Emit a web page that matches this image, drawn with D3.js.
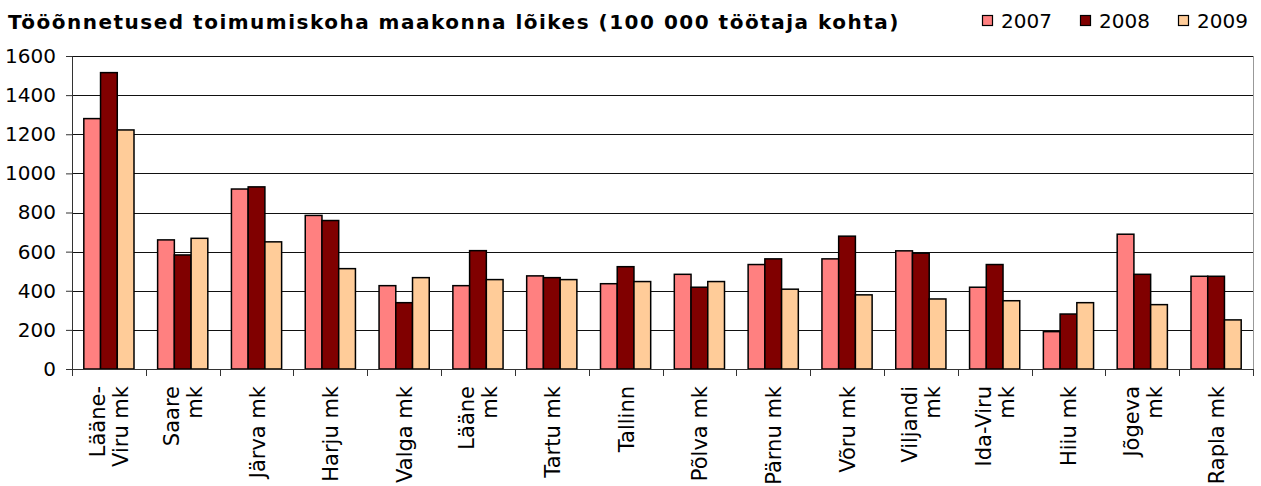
<!DOCTYPE html>
<html>
<head>
<meta charset="utf-8">
<script src="https://cdn.jsdelivr.net/npm/d3@7"></script>
<style>
  body { margin: 0; background: #fff; }
  text { font-family: "DejaVu Sans", Verdana, sans-serif; }
</style>
</head>
<body>
<div id="wrapper"></div>
<script>
// maakonnad ja aastad
const categories = [
    ["Lääne-", "Viru mk"], ["Saare", "mk"], ["Järva mk"], ["Harju mk"], ["Valga mk"],
    ["Lääne", "mk"], ["Tartu mk"], ["Tallinn"], ["Põlva mk"], ["Pärnu mk"],
    ["Võru mk"], ["Viljandi", "mk"], ["Ida-Viru", "mk"], ["Hiiu mk"], ["Jõgeva", "mk"], ["Rapla mk"]
];
const years = ["2007", "2008", "2009"];
const values2007 = [1280, 660, 920, 785, 426, 426, 476, 436, 484, 534, 563, 604, 418, 191, 689, 474];
const values2008 = [1515, 583, 931, 759, 339, 605, 467, 523, 418, 563, 679, 592, 534, 281, 484, 474];
const values2009 = [1222, 668, 650, 513, 467, 457, 457, 447, 447, 408, 379, 358, 349, 339, 329, 251];
const yTicks = [0, 200, 400, 600, 800, 1000, 1200, 1400, 1600];
const colors = ["#ff8080", "#800000", "#ffcc99"];

const series = [values2007, values2008, values2009];

var dimension = {
    width: 1261,
    height: 486,
    margin: { top: 56, left: 72, bottom: 117, right: 8 }
};
dimension.boundedWidth = dimension.width - dimension.margin.left - dimension.margin.right;
dimension.boundedHeight = dimension.height - dimension.margin.top - dimension.margin.bottom;

const svg = d3.select("#wrapper").append("svg")
    .attr("width", dimension.width)
    .attr("height", dimension.height);

svg.append("text")
    .attr("x", 8)
    .attr("y", 29)
    .style("font-size", "20px")
    .style("font-weight", "bold")
    .style("letter-spacing", "1.5px")
    .text("Tööõnnetused toimumiskoha maakonna lõikes (100 000 töötaja kohta)");

const bounded = svg.append("g")
    .attr("transform", `translate(${dimension.margin.left},${dimension.margin.top})`);

const xScaler = d3.scaleBand()
    .domain(d3.range(categories.length))
    .range([0, dimension.boundedWidth])
    .paddingInner(0.32)
    .paddingOuter(0.16);

const subScaler = d3.scaleBand()
    .domain(years)
    .range([0, xScaler.bandwidth()]);

const yScaler = d3.scaleLinear()
    .domain([0, 1600])
    .range([dimension.boundedHeight, 0]);

// ruudustik
bounded.append("g")
    .selectAll("line")
    .data(yTicks.filter(d => d > 0))
    .join("line")
    .attr("x1", 0)
    .attr("x2", dimension.boundedWidth)
    .attr("y1", d => Math.round(yScaler(d)) + 0.5)
    .attr("y2", d => Math.round(yScaler(d)) + 0.5)
    .attr("stroke", "#111")
    .attr("stroke-width", 1);

// parem serv
bounded.append("line")
    .attr("x1", dimension.boundedWidth + 0.5)
    .attr("x2", dimension.boundedWidth + 0.5)
    .attr("y1", 0)
    .attr("y2", dimension.boundedHeight)
    .attr("stroke", "#999");

// tulbad
years.forEach((yr, si) => {
    bounded.append("g")
        .selectAll("rect")
        .data(series[si])
        .join("rect")
        .attr("x", (d, i) => xScaler(i) + subScaler(yr))
        .attr("y", d => yScaler(d))
        .attr("width", subScaler.bandwidth())
        .attr("height", d => dimension.boundedHeight - yScaler(d))
        .attr("fill", colors[si])
        .attr("stroke", "#000")
        .attr("stroke-width", 1.5);
});

// y telg
const y_axis = d3.axisLeft(yScaler)
    .tickValues(yTicks)
    .tickFormat(d3.format("d"))
    .tickSize(6)
    .tickPadding(10);
const yg = bounded.append("g").call(y_axis);
yg.select(".domain").attr("stroke", "#333");
yg.selectAll("line").attr("stroke", "#333");
yg.selectAll("text").style("font-size", "20px").attr("fill", "#000");

// x telg: kriipsud kategooriate vahel
const step = xScaler.step();
const xg = bounded.append("g")
    .attr("transform", `translate(0,${dimension.boundedHeight})`);
xg.append("line")
    .attr("x1", 0).attr("x2", dimension.boundedWidth)
    .attr("y1", 0.5).attr("y2", 0.5)
    .attr("stroke", "#333");
xg.selectAll(".tick")
    .data(d3.range(categories.length + 1))
    .join("line")
    .attr("class", "tick")
    .attr("x1", d => Math.round(d * step) + 0.5)
    .attr("x2", d => Math.round(d * step) + 0.5)
    .attr("y1", 0)
    .attr("y2", 7)
    .attr("stroke", "#333");

// kategooriate nimed, pööratud
const labels = xg.selectAll(".lbl")
    .data(categories)
    .join("g")
    .attr("class", "lbl")
    .attr("transform", (d, i) => `translate(${xScaler(i) + xScaler.bandwidth() / 2},17) rotate(-90)`);

labels.each(function(lines) {
    const g = d3.select(this);
    lines.forEach((ln, k) => {
        g.append("text")
            .attr("x", 0)
            .attr("y", (k - (lines.length - 1) / 2) * 23 + 8)
            .attr("text-anchor", "end")
            .style("font-size", "21px")
            .text(ln);
    });
});

// legend
const legend = svg.append("g");
const legendX = [982, 1080, 1178];
years.forEach((yr, i) => {
    legend.append("rect")
        .attr("x", legendX[i] + 0.5)
        .attr("y", 15.5)
        .attr("width", 10)
        .attr("height", 10)
        .attr("fill", colors[i])
        .attr("stroke", "#000")
        .attr("stroke-width", 1.2);
    legend.append("text")
        .attr("x", legendX[i] + 19)
        .attr("y", 28)
        .style("font-size", "20px")
        .text(yr);
});
</script>
</body>
</html>
